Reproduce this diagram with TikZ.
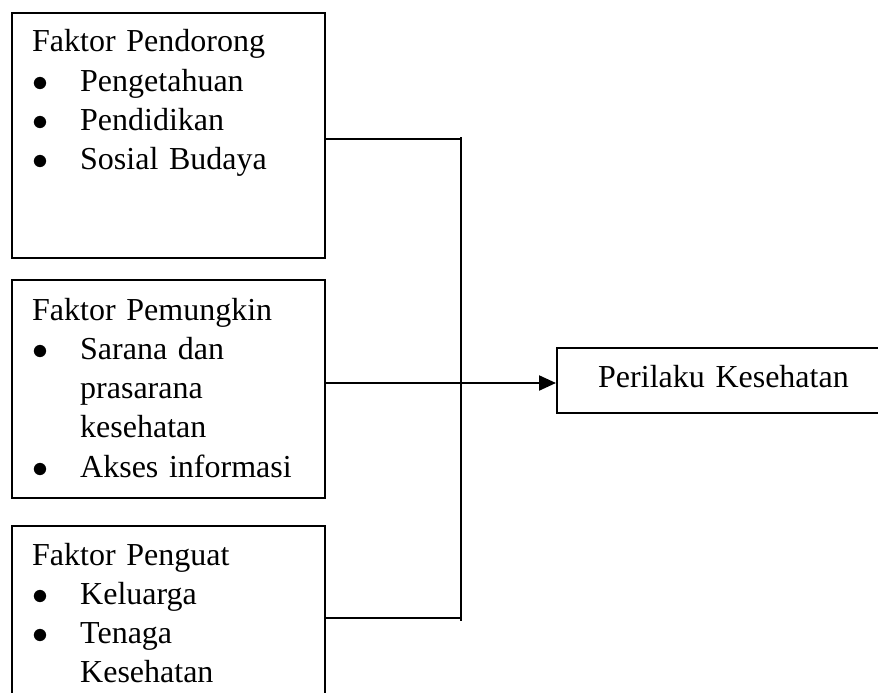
\RequirePackage{fix-cm}
\documentclass[tikz,border=0pt]{standalone}
\usepackage{fontspec}
\setmainfont{Liberation Serif}
\usepackage{tikz}
\usetikzlibrary{arrows.meta,positioning}

\tikzset{
  factorbox/.style={draw, line width=1.8pt, anchor=north west, inner sep=0pt, minimum width=313pt},
  factortext/.style={anchor=base west, inner sep=0pt, text width=300pt, align=left,
    font=\fontsize{32}{39.3}\selectfont},
  connector/.style={line width=1.8pt},
}
\newcommand{\bulletmark}{\makebox[48pt][l]{$\bullet$}}
\newcommand{\bulletgap}{\hspace*{48pt}}

\begin{document}
\begin{tikzpicture}[x=1pt, y=-1pt]
        % Bidang gambar
        \clip (0,0) rectangle (878,693);

        % Kotak faktor
        \node[factorbox, minimum height=245pt] (pendorong) at (11,12) {};
        \node[factorbox, minimum height=218pt] (pemungkin) at (11,279) {};
        \node[factorbox, minimum height=220pt] (penguat) at (11,525) {};
        \node[factorbox, minimum width=340pt, minimum height=65pt] (perilaku) at (556,347) {};

        % Isi kotak
        \node[factortext] at ([xshift=21pt, yshift=-40pt]pendorong.north west)
            {Faktor Pendorong\\
             \bulletmark Pengetahuan\\
             \bulletmark Pendidikan\\
             \bulletmark Sosial Budaya};
        \node[factortext] at ([xshift=21pt, yshift=-41pt]pemungkin.north west)
            {Faktor Pemungkin\\
             \bulletmark Sarana dan\\
             \bulletgap prasarana\\
             \bulletgap kesehatan\\
             \bulletmark Akses informasi};
        \node[factortext] at ([xshift=21pt, yshift=-40pt]penguat.north west)
            {Faktor Penguat\\
             \bulletmark Keluarga\\
             \bulletmark Tenaga\\
             \bulletgap Kesehatan};
        \node[factortext] at ([xshift=42pt, yshift=-40pt]perilaku.north west)
            {Perilaku Kesehatan};

        % Garis penghubung
        \coordinate (bustop) at (461,137);
        \coordinate (busbottom) at (461,621);
        \coordinate (hub) at (461,383);
        \draw[connector] (bustop) -- (busbottom);
        \draw[connector] (pendorong.east |- 0,139) -- (461,139);
        \draw[connector] (penguat.east |- 0,618) -- (461,618);
        \draw[connector, line width=2.2pt, -{Triangle[length=17pt, width=15pt]}]
            (pemungkin.east |- hub) -- (perilaku.west |- hub);
    \end{tikzpicture}
\end{document}
